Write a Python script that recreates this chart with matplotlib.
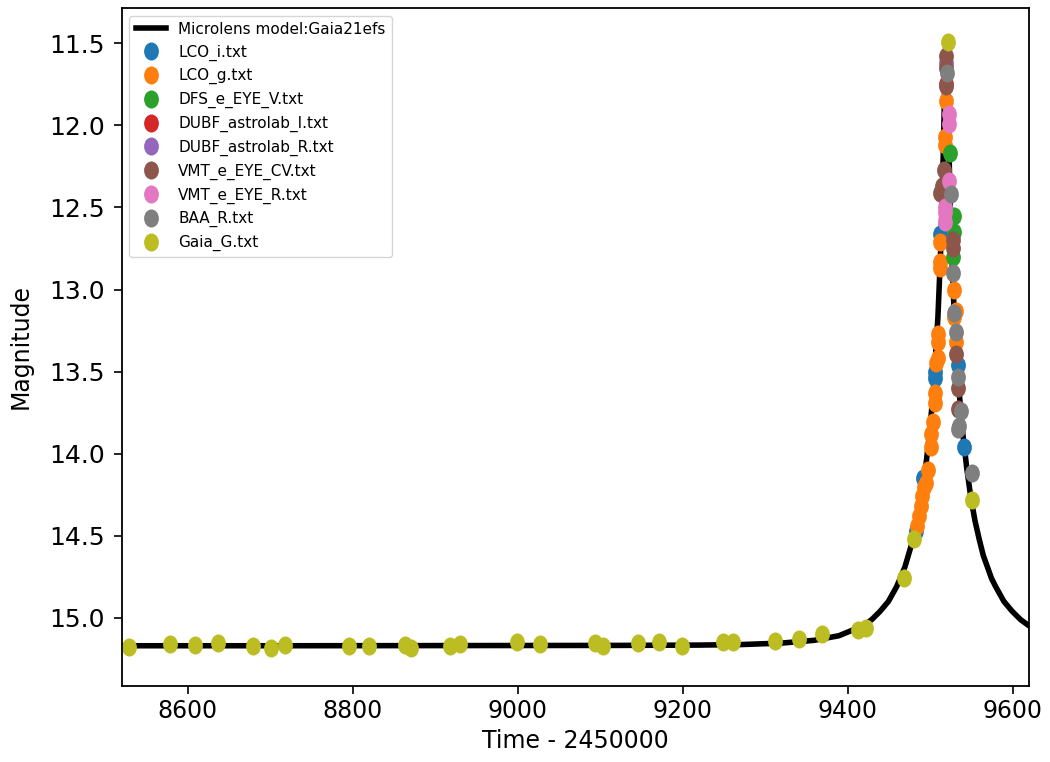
import matplotlib
matplotlib.use("Agg")
import matplotlib.pyplot as plt
from matplotlib.path import Path
from matplotlib.transforms import Affine2D

# microlensing model curve
model_t = [8519, 8719, 8919, 9119, 9219, 9269, 9319, 9359, 9389, 9419, 9429, 9439, 9449,
           9459, 9469, 9479, 9489, 9494, 9499, 9504, 9509, 9512, 9514, 9516, 9517, 9518,
           9519, 9520, 9521, 9522, 9524, 9526, 9529, 9534, 9539, 9544, 9549, 9554, 9559,
           9564, 9569, 9574, 9579, 9589, 9599, 9609, 9619]
model_mag = [15.170, 15.170, 15.169, 15.168, 15.166, 15.163, 15.154, 15.137, 15.109, 15.047,
             15.01, 14.96, 14.90, 14.81, 14.69, 14.52, 14.27, 14.09, 13.87, 13.58, 13.17,
             12.81, 12.49, 12.07, 11.81, 11.58, 11.47, 11.58, 11.81, 12.07, 12.49, 12.81,
             13.17, 13.58, 13.87, 14.09, 14.27, 14.41, 14.52, 14.62, 14.69, 14.76, 14.81,
             14.90, 14.96, 15.01, 15.047]

# photometry per telescope
lco_i_t = [9483, 9491, 9505, 9506, 9511, 9533, 9541]
lco_i_m = [14.47, 14.15, 13.50, 13.54, 12.66, 13.46, 13.96]

lco_g_t = [9484, 9486, 9488, 9490, 9492, 9495, 9497, 9501, 9501, 9503, 9505, 9505, 9507,
           9509, 9509, 9509, 9511, 9511, 9511, 9517, 9517, 9519, 9529, 9529, 9531, 9531]
lco_g_m = [14.44, 14.38, 14.32, 14.26, 14.20, 14.18, 14.10, 13.96, 13.88, 13.81, 13.69,
           13.63, 13.45, 13.42, 13.32, 13.27, 12.71, 12.83, 12.87, 12.07, 12.12, 11.85,
           13.00, 13.17, 13.32, 13.13]

dfs_v_t = [9524, 9529, 9528, 9527]
dfs_v_m = [12.17, 12.55, 12.65, 12.80]

dubf_i_t = [9519]
dubf_i_m = [11.75]

dubf_r_t = [9519]
dubf_r_m = [11.62]

vmt_cv_t = [9519, 9519, 9519, 9516, 9514, 9511, 9527, 9527, 9531, 9533, 9533]
vmt_cv_m = [11.58, 11.65, 11.76, 12.27, 12.37, 12.41, 12.70, 12.75, 13.39, 13.60, 13.73]

vmt_r_t = [9523, 9523, 9523, 9518, 9518, 9517]
vmt_r_m = [11.93, 11.99, 12.34, 12.50, 12.59, 12.53]

baa_r_t = [9520.5, 9525, 9527, 9529, 9531, 9533, 9537, 9535, 9533, 9550]
baa_r_m = [11.68, 12.42, 12.90, 13.14, 13.26, 13.53, 13.74, 13.83, 13.85, 14.12]

gaia_t = [8529, 8579, 8609, 8637, 8679, 8701, 8718, 8795, 8820, 8863, 8871, 8918, 8930,
          8999, 9027, 9093, 9103, 9146, 9171, 9199, 9248, 9261, 9311, 9341, 9369, 9412,
          9422, 9468, 9480, 9521, 9550]
gaia_m = [15.177, 15.159, 15.165, 15.153, 15.171, 15.183, 15.165, 15.171, 15.171, 15.165,
          15.183, 15.171, 15.159, 15.147, 15.159, 15.153, 15.171, 15.153, 15.147, 15.171,
          15.147, 15.147, 15.141, 15.13, 15.10, 15.075, 15.06, 14.76, 14.52, 11.49, 14.28]

datasets = [
    ("LCO_i.txt", lco_i_t, lco_i_m),
    ("LCO_g.txt", lco_g_t, lco_g_m),
    ("DFS_e_EYE_V.txt", dfs_v_t, dfs_v_m),
    ("DUBF_astrolab_I.txt", dubf_i_t, dubf_i_m),
    ("DUBF_astrolab_R.txt", dubf_r_t, dubf_r_m),
    ("VMT_e_EYE_CV.txt", vmt_cv_t, vmt_cv_m),
    ("VMT_e_EYE_R.txt", vmt_r_t, vmt_r_m),
    ("BAA_R.txt", baa_r_t, baa_r_m),
    ("Gaia_G.txt", gaia_t, gaia_m),
]

# slightly tall dots, like in the original picture
ell = Path.unit_circle().transformed(Affine2D().scale(0.82, 1.0))

fig = plt.figure(figsize=(10.5, 7.62), dpi=100)
ax = fig.add_axes([0.116, 0.100, 0.864, 0.8895])

ax.plot(model_t, model_mag, '-', color='k', lw=4, label='Microlens model:Gaia21efs')
for i, (name, t, m) in enumerate(datasets):
    ax.plot(t, m, ls='none', marker=ell, color=f"C{i}", ms=13, mew=0, label=name)

ax.set_xlim(8520, 9619.4)
ax.set_ylim(15.414, 11.285)
ax.set_xticks([8600, 8800, 9000, 9200, 9400, 9600])
ax.set_yticks([11.5, 12.0, 12.5, 13.0, 13.5, 14.0, 14.5, 15.0])
ax.tick_params(axis='x', labelsize=17, length=6, width=1.2)
ax.tick_params(axis='y', labelsize=18, length=6, width=1.2, pad=6)
for s in ax.spines.values():
    s.set_linewidth(1.3)
ax.set_xlabel("Time - 2450000", fontsize=17)
ax.set_ylabel("Magnitude", fontsize=17, labelpad=12)
ax.legend(loc='upper left', fontsize=11)

fig.savefig("out.png", dpi=100)
